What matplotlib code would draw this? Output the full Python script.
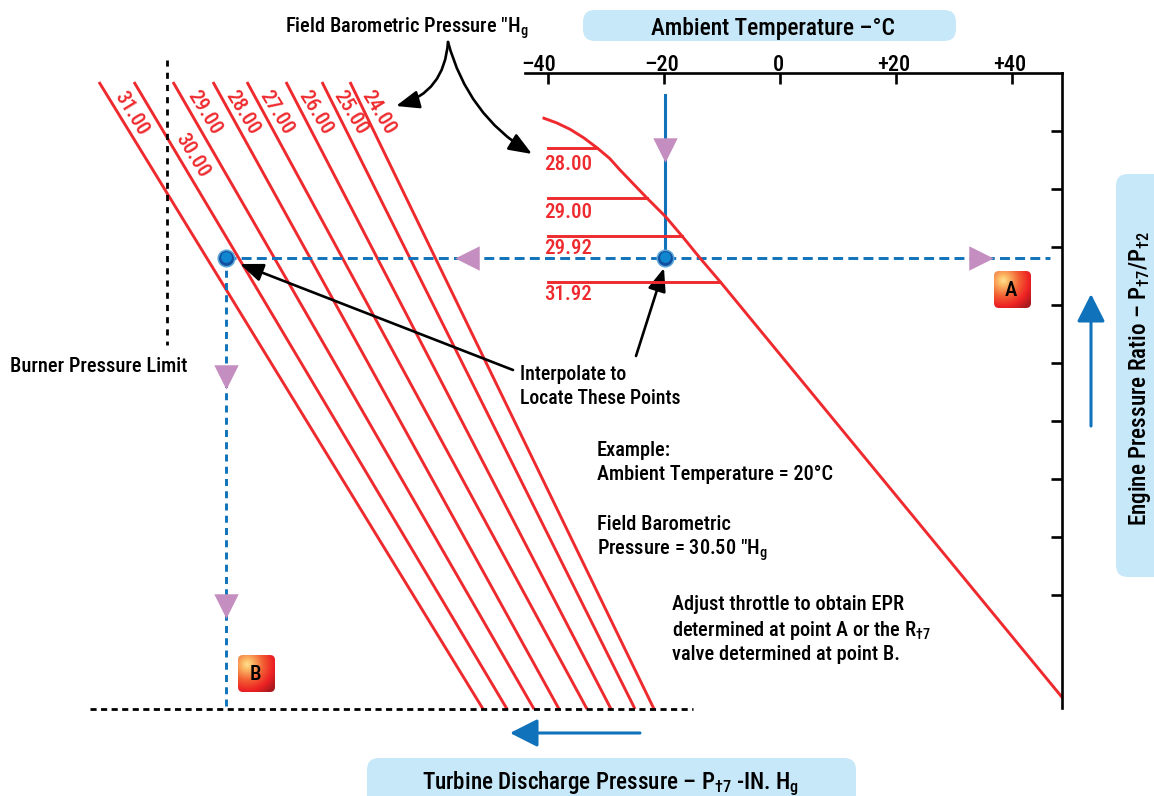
import numpy as np
import matplotlib
matplotlib.use('Agg')
import matplotlib.pyplot as plt
from matplotlib.patches import FancyBboxPatch, FancyArrowPatch
from matplotlib.transforms import ScaledTranslation

FONT = 'Roboto Condensed'
plt.rcParams['font.family'] = [FONT, 'Roboto', 'DejaVu Sans']
plt.rcParams['font.weight'] = 500
plt.rcParams['mathtext.fontset'] = 'custom'
plt.rcParams['mathtext.rm'] = FONT + ':medium'
plt.rcParams['mathtext.default'] = 'rm'

W, H = 1154, 796
RED = '#EE2A2E'
BLUE = '#0F72BA'
PURPLE = '#C48FC0'
PILL = '#C7E8F9'

# ambient temperature curve (deg C, EPR division)
temp_ticks = [-40, -20, 0, 20, 40]
temp_labels = ['\u201340', '\u201320', '0', '+20', '+40']
epr_ticks = [1, 2, 3, 4, 5, 6, 7, 8, 9]
curve_temp = [-40.7, -38.5, -36.2, -33.8, -31.55, -29.4, -27.6, -25.3, -22.9, -19.7, -16.9, -13.8, -10.3, 48.6]
curve_epr = [9.22, 9.14, 9.03, 8.88, 8.71, 8.53, 8.33, 8.09, 7.84, 7.52, 7.19, 6.81, 6.40, -0.76]

# field pressure steps on the curve
step_labels = ['28.00', '29.00', '29.92', '31.92']
step_epr = [8.71, 7.84, 7.19, 6.40]
step_end = [-31.55, -22.9, -16.9, -10.3]

# turbine discharge lines, pixel ends
press_labels = ['31.00', '30.00', '29.00', '28.00', '27.00', '26.00', '25.00', '24.00']
press_top = [99, 134, 173, 213, 247, 286, 322, 350]
press_bottom = [483, 507, 534, 559, 587, 611, 635, 654]
label_x = [132, 193, 205, 243, 277, 316, 351, 379]
label_y = [113, 156, 113, 113, 113, 113, 113, 113]

fig = plt.figure(figsize=(W / 100, H / 100), dpi=100)

# overlay in pixels, for the drawing parts
ov = fig.add_axes([0, 0, 1, 1])
ov.axis('off')

# temperature / EPR chart
ax = fig.add_axes([525 / W, 1 - 708 / H, (1062 - 525) / W, (708 - 73) / H])
ax.patch.set_alpha(0)
ax.set_xlim((525 - 780) / 5.8, (1062 - 780) / 5.8)
ax.set_ylim((653 - 708) / 58, (653 - 73) / 58)
for s in ['left', 'bottom']:
    ax.spines[s].set_visible(False)
for s in ['top', 'right']:
    ax.spines[s].set_linewidth(1.9)
ax.xaxis.tick_top()
ax.yaxis.tick_right()
ax.set_xticks(temp_ticks)
ax.set_xticklabels(temp_labels, fontsize=16)
ax.set_yticks(epr_ticks)
ax.set_yticklabels([])
ax.tick_params(axis='both', direction='in', length=8, width=1.9, pad=-2)
# labels sit a little left of their ticks
for lab, dx in zip(ax.get_xticklabels(), [-9, -2, -2, -2, -2]):
    lab.set_transform(lab.get_transform() + ScaledTranslation(dx / 100, 0, fig.dpi_scale_trans))
ax.plot(curve_temp, curve_epr, color=RED, lw=2.1, clip_on=False, solid_joinstyle='round')
for y, x1 in zip(step_epr, step_end):
    ax.plot([-40, x1], [y, y], color=RED, lw=2.1)

text_y = [164, 212, 248, 294]
for lab, y in zip(step_labels, text_y):
    ov.text(544, y, lab, color=RED, fontsize=15, ha='left', va='center')

# red pressure lines
for top, bot in zip(press_top, press_bottom):
    ov.plot([top, bot], [82, 709], color=RED, lw=2.1, solid_capstyle='butt')
for lab, x, y in zip(press_labels, label_x, label_y):
    ov.text(x - 1, y, lab, color=RED, fontsize=15, rotation=-58.5,
            rotation_mode='anchor', ha='center', va='center')

# limit lines
ov.plot([167, 167], [60, 345], color='black', lw=2, dashes=(2.2, 2.2))
ov.plot([90, 693], [709, 709], color='black', lw=2, dashes=(2.2, 1.6))

# reading path
ov.plot([665, 665], [95, 258], color=BLUE, lw=2.2)
ov.plot([226, 1050], [258, 258], color=BLUE, lw=2.1, dashes=(3.4, 1.8))
ov.plot([226, 226], [258, 709], color=BLUE, lw=2.1, dashes=(2.4, 1.8))

for x, y, m in [(665, 150, 'v'), (467, 258, '<'), (981, 258, '>'),
                (226, 377, 'v'), (226, 606, 'v')]:
    ov.scatter([x], [y], marker=m, s=310, color=PURPLE, linewidths=0, zorder=5)

for x in [226, 665]:
    ov.scatter([x], [258], s=170, color='#5AA6D8', linewidths=0, zorder=6)
    ov.scatter([x], [258], s=115, color='#12509F', linewidths=0, zorder=7)
    ov.scatter([x - 0.5], [257], s=60, color='#0F86D0', linewidths=0, zorder=8)

# blue direction arrows
blue_head = '-|>,head_length=1.7,head_width=0.86'
ov.add_patch(FancyArrowPatch((1091, 426), (1091, 294), arrowstyle=blue_head, mutation_scale=10,
                             color=BLUE, lw=2.2, shrinkA=0, shrinkB=0))
ov.add_patch(FancyArrowPatch((640, 733), (510, 733), arrowstyle=blue_head, mutation_scale=10,
                             color=BLUE, lw=2.2, shrinkA=0, shrinkB=0))

# black callouts
black_head = '-|>,head_length=1.4,head_width=0.55'
for a, b, cs in [((636, 356), (664, 268), 'arc3'),
                 ((513, 370), (240, 264), 'arc3'),
                 ((448, 42), (396, 106), 'arc3,rad=-0.35'),
                 ((448, 42), (532, 154), 'arc3,rad=0.2')]:
    ov.add_patch(FancyArrowPatch(a, b, arrowstyle=black_head, mutation_scale=10, color='black',
                                 lw=1.9, shrinkA=0, shrinkB=0, connectionstyle=cs, zorder=6))

# pills
for x0, y0, w, h in [(583, 10, 373, 31), (1116, 174, 60, 403), (367, 758, 489, 60)]:
    ov.add_patch(FancyBboxPatch((x0 + 12, y0 + 12), w - 24, h - 24,
                                boxstyle='round,pad=12,rounding_size=12',
                                facecolor=PILL, edgecolor='none', clip_on=True))

# badges
yy, xx = np.mgrid[0:1:80j, 0:1:80j]
dist = np.clip(np.hypot(xx - 0.25, yy - 0.25) / 0.95, 0, 1)
stops = [0, 0.12, 0.45, 0.75, 1]
colours = np.array([[1, 0.88, 0.58], [0.99, 0.76, 0.42], [0.95, 0.38, 0.2],
                    [0.93, 0.13, 0.14], [0.66, 0.1, 0.12]])
badge = np.zeros((80, 80, 3))
for i in range(3):
    badge[..., i] = np.interp(dist, stops, colours[:, i])
for x0, y0, lab in [(994, 271, 'A'), (238, 655, 'B')]:
    im = ov.imshow(badge, extent=(x0, x0 + 37, y0 + 37, y0), zorder=4)
    clip = FancyBboxPatch((x0 + 5, y0 + 5), 27, 27, boxstyle='round,pad=5,rounding_size=5',
                          transform=ov.transData, facecolor='none', edgecolor='none')
    ov.add_patch(clip)
    im.set_clip_path(clip)
    ov.text(x0 + 17, y0 + 19, lab, fontsize=15, ha='center', va='center',
            fontweight=500, zorder=5)
ov.set_xlim(0, W)
ov.set_ylim(H, 0)
ov.set_aspect('auto')

# text
fs = 14.7
ov.text(285, 28, 'Field Barometric Pressure "H$_{g}$', fontsize=fs, va='center')
ov.text(773, 28, 'Ambient Temperature \u2013\u00b0C', fontsize=16.8, va='center', ha='center')
ov.text(10, 366, 'Burner Pressure Limit', fontsize=fs, va='center')
ov.text(520, 374, 'Interpolate to', fontsize=14.2, va='center')
ov.text(520, 399, 'Locate These Points', fontsize=14.2, va='center')
ov.text(597, 450, 'Example:', fontsize=fs, va='center')
ov.text(597, 475, 'Ambient Temperature = 20\u00b0C', fontsize=fs, va='center')
ov.text(597, 525, 'Field Barometric', fontsize=fs, va='center')
ov.text(597, 550, 'Pressure = 30.50 "H$_{g}$', fontsize=fs, va='center')
ov.text(672, 605, 'Adjust throttle to obtain EPR', fontsize=fs, va='center')
ov.text(672, 630, 'determined at point A or the R$_{\u20207}$', fontsize=fs, va='center')
ov.text(672, 655, 'valve determined at point B.', fontsize=fs, va='center')
ov.text(611, 784, 'Turbine Discharge Pressure \u2013 P$_{\u20207}$ -IN. H$_{g}$', fontsize=16.7,
        va='center', ha='center')
ov.text(1140, 379, 'Engine Pressure Ratio \u2013 P$_{\u20207}$/P$_{\u20202}$', fontsize=16.7,
        va='center', ha='center', rotation=90)

fig.savefig('out.png', dpi=100)
